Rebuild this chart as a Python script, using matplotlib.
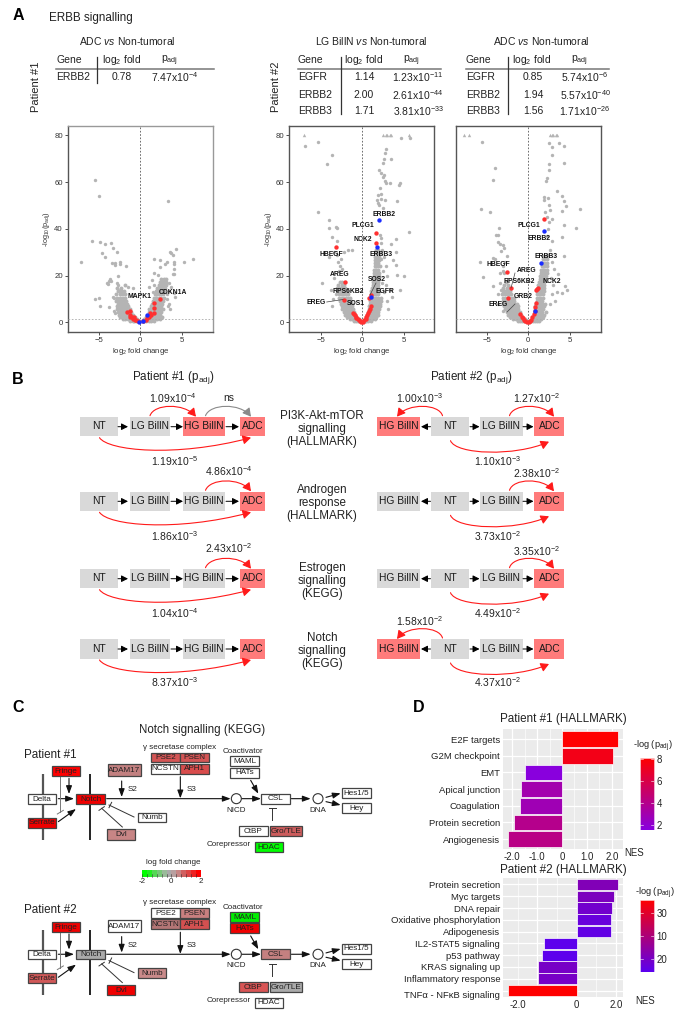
import numpy as np
import matplotlib
matplotlib.use("Agg")
import matplotlib.pyplot as plt
from matplotlib.patches import Rectangle, Circle, FancyArrowPatch
from matplotlib.path import Path
from matplotlib.colors import LinearSegmentedColormap, Normalize
from matplotlib.transforms import ScaledTranslation

plt.rcParams['font.family'] = ['Liberation Sans', 'DejaVu Sans']
plt.rcParams['mathtext.fontset'] = 'custom'
plt.rcParams['mathtext.rm'] = 'Liberation Sans'
plt.rcParams['mathtext.it'] = 'Liberation Sans:italic'
plt.rcParams['mathtext.bf'] = 'Liberation Sans:bold'
plt.rcParams['mathtext.default'] = 'regular'

W, H = 685, 1017
TXT = '#222222'

# ---------- Panel A data ----------
v1_rows_y = [0.6, 1.3, 2.2, 3.2, 4.3, 5.5, 6.8, 8, 9.3, 10.6, 12, 13.3, 14.6, 16, 17.3, 18.6]
v1_rows_x = [
    [-1.2, -.9, -.7, -.5, -.3, -.15, .15, .3, .5, .7, 1.0, 1.3, 1.7],
    [-2.1, -1.8, -1.5, -1.25, -1.0, -.8, -.6, -.45, .45, .65, .85, 1.1, 1.35, 1.65, 2.0, 2.4],
    [-2.5, -2.2, -1.9, -1.6, -1.35, -1.1, -.85, -.65, .7, .9, 1.1, 1.35, 1.6, 1.9, 2.2, 2.6],
    [-2.6, -2.3, -2.05, -1.75, -1.5, -1.25, -1.0, -.85, .9, 1.05, 1.25, 1.5, 1.75, 2.0, 2.35],
    [-2.7, -2.4, -2.1, -1.85, -1.6, -1.35, -1.1, 1.0, 1.2, 1.4, 1.65, 1.9, 2.2, 2.5],
    [-2.8, -2.45, -2.2, -1.9, -1.65, -1.4, -1.2, 1.1, 1.3, 1.55, 1.8, 2.05, 2.35, 2.7],
    [-2.85, -2.5, -2.25, -2.0, -1.7, -1.45, 1.25, 1.45, 1.7, 1.9, 2.15, 2.45],
    [-2.7, -2.45, -2.15, -1.85, -1.55, 1.4, 1.6, 1.8, 2.05, 2.3, 2.6],
    [-2.9, -2.55, -2.3, -2.0, -1.7, 1.5, 1.7, 1.95, 2.15, 2.4, 2.7],
    [-2.8, -2.4, -2.1, -1.85, 1.6, 1.85, 2.05, 2.3, 2.55, 2.8],
    [-2.9, -2.5, -2.2, -1.9, 1.75, 1.95, 2.2, 2.45, 2.7],
    [-2.7, -2.3, -2.0, 1.9, 2.1, 2.35, 2.6, 2.85],
    [-2.75, -2.3, 2.0, 2.25, 2.5, 2.75, 3.0],
    [-1.9, 2.2, 2.4, 2.65, 2.9, 3.1],
    [2.35, 2.6, 2.8, 3.05],
    [2.55, 2.8, 3.1],
]
v1_grey = [(-5.4, 60.8), (-5.0, 54), (3.3, 52), (-5.8, 35), (-4.8, 34.4), (-4.3, 33.4), (-3.5, 33.8),
           (-3.3, 31.8), (-2.8, 30), (-4.6, 29.5), (-4.2, 27.8), (-7.2, 26), (-3.4, 25.5), (-3.1, 25.5),
           (-3.1, 24.4), (-2.4, 26), (-2.5, 25), (-1.7, 24), (-2.7, 20), (-3.6, 18.7), (-3.8, 17.8),
           (-4.0, 17), (-3.9, 16.5), (-3.5, 17.5), (-2.8, 17), (-2.7, 16), (-1.5, 15), (-0.9, 14.7),
           (-5.4, 10), (-5.0, 10.5), (-4.9, 7), (-3.8, 6.5), (-3.3, 11), (-3.2, 10.5), (-3.2, 5), (-3.0, 4),
           (-2.4, 14), (4.3, 31.2), (3.6, 30), (3.7, 29.5), (3.9, 28.7), (1.7, 27), (2.4, 26.7), (3.2, 25.8),
           (3.0, 24.8), (2.4, 23.8), (4.0, 26), (4.0, 24.8), (5.3, 26), (6.4, 27.1), (4.1, 22.8), (3.9, 20.5),
           (4.1, 20.5), (1.7, 21.2), (2.1, 20.2), (1.0, 15), (1.5, 13), (1.4, 18), (1.6, 16), (3.5, 8),
           (3.6, 5.5), (3.3, 7), (3.2, 10), (3.2, 12), (3.4, 13.5), (4.2, 11), (4.0, 12.5), (3.7, 15), (3.4, 17)]
v1_red = [(2.35, 10), (1.6, 8.3), (1.6, 6), (1.65, 4), (1.2, 3.9), (1.3, 3), (-1.6, 4.5), (-1.2, 4.7),
          (-1.3, 3.2), (-1.2, 2.5), (-1.0, 2.2), (-0.9, 1.5), (-0.8, 2.4), (-0.6, 1.2), (-0.5, 0.8),
          (-0.3, 0.4), (0.3, 0.5), (0.7, 1.2), (0.8, 1.8), (1.0, 2.3)]
v1_blue = [(0.75, 3), (0.35, 0.5), (-0.1, 0.1)]

v2_rows_y = [0.6, 1.3, 2.2, 3.2, 4.3, 5.5, 6.8, 8, 9.3, 10.6, 12, 13.3, 14.6, 16, 17.3, 18.6, 20, 21.3, 22.6, 24, 25.3,
             26.6, 28, 29.5, 31]
v2_rows_x = [
    [-1.0, -.7, -.5, -.35, -.2, .2, .35, .5, .7, 1.0],
    [-1.5, -1.2, -1.0, -.8, -.6, -.45, .4, .55, .7, .9, 1.15, 1.5],
    [-1.9, -1.6, -1.35, -1.1, -.9, -.7, .5, .7, .9, 1.1, 1.35, 1.7],
    [-2.1, -1.8, -1.55, -1.3, -1.05, -.85, .6, .8, 1.0, 1.2, 1.5, 1.85],
    [-2.2, -1.95, -1.7, -1.45, -1.2, -.95, .7, .85, 1.05, 1.3, 1.6, 1.95],
    [-2.4, -2.1, -1.85, -1.6, -1.35, -1.1, .75, .95, 1.15, 1.4, 1.7, 2.05],
    [-2.5, -2.25, -1.95, -1.7, -1.45, -1.2, .8, 1.0, 1.2, 1.45, 1.75, 2.1],
    [-2.6, -2.35, -2.05, -1.8, -1.55, -1.3, .9, 1.05, 1.3, 1.55, 1.8, 2.15],
    [-2.7, -2.4, -2.15, -1.85, -1.6, -1.4, .95, 1.15, 1.35, 1.6, 1.85, 2.2],
    [-2.8, -2.5, -2.2, -1.95, -1.7, -1.5, 1.0, 1.2, 1.4, 1.65, 1.9, 2.25],
    [-2.85, -2.55, -2.3, -2.0, -1.75, 1.05, 1.25, 1.5, 1.7, 1.95],
    [-2.9, -2.6, -2.3, -2.05, -1.8, 1.1, 1.3, 1.55, 1.75, 2.0],
    [-3.0, -2.65, -2.35, -2.1, 1.2, 1.4, 1.6, 1.85],
    [-2.9, -2.5, -2.25, 1.25, 1.45, 1.65, 1.9],
    [-2.7, -2.4, 1.3, 1.5, 1.7, 1.95],
    [1.35, 1.55, 1.75, 2.0],
    [1.4, 1.6, 1.8, 2.05],
    [1.4, 1.6, 1.85, 2.0],
    [1.45, 1.65, 1.85],
    [1.5, 1.7, 1.9, 2.1],
    [1.5, 1.7, 1.95],
    [1.55, 1.75, 2.0],
    [1.55, 1.8, 2.05],
    [1.6, 1.85, 2.1],
    [1.65, 1.9],
]
v2_grey = [(-6.9, 75.5), (-5.3, 77), (-3.6, 71.8), (-4.2, 67.8), (-5.3, 47), (-4.0, 43.8), (-4.0, 40.2),
           (-3.2, 40.6), (-3.0, 40.2), (-3.6, 36.6), (-3.1, 35), (2.8, 74.3), (2.7, 72.6), (2.6, 69.8),
           (3.5, 70), (2.5, 68), (2.0, 65), (2.3, 64), (2.6, 63), (2.55, 62), (2.75, 60.5), (2.8, 59.6),
           (3.3, 59.5), (4.6, 59.5), (4.4, 58.6), (4.7, 78.8), (5.7, 78.9), (2.1, 57.3), (1.95, 54.5),
           (2.3, 55), (1.8, 52.3), (2.3, 52.6), (2.75, 52.3), (4.2, 52), (1.95, 51), (2.05, 50), (2.5, 49),
           (5.6, 38.8), (4.0, 35.5), (2.1, 37.4), (2.3, 36), (3.5, 33.5), (4.0, 30.2), (3.75, 26.7), (4.0, 24.5),
           (4.15, 20.3), (5.0, 19.8), (4.5, 14), (-4.9, 17), (-3.4, 30), (-4.0, 28), (-3.0, 29), (-2.9, 26),
           (-2.6, 27), (-2.7, 24), (-2.8, 22), (-2.5, 23), (-1.7, 31), (-1.3, 31), (-2.2, 30), (-3.4, 19),
           (-3.8, 14), (-3.5, 10), (-3.6, 7), (-3.2, 12), (2.3, 34), (2.4, 31), (2.6, 28), (2.8, 24), (2.3, 27),
           (2.5, 22), (3.0, 20), (2.9, 16), (3.3, 14), (3.6, 11), (3.0, 9), (2.6, 13), (2.4, 17), (3.1, 5.5)]
v2_tri = [(-7.0, 80), (2.5, 80), (2.8, 80), (3.0, 80), (3.3, 80), (3.5, 80), (5.6, 80)]
v2_red = [(1.65, 38.4), (1.7, 33.8), (-3.2, 32.1), (-2.1, 17.3), (-2.2, 9.7), (0.85, 10.3), (1.0, 11.7),
          (-1.1, 4.0), (-1.0, 3.4), (-0.9, 3.0), (-0.8, 2.4), (-0.7, 2.0), (-0.55, 1.5), (-0.4, 1.0), (-0.25, 0.6),
          (-0.1, 0.2), (0.1, 0.3), (0.25, 0.8), (0.4, 1.5), (0.5, 2.2), (0.6, 3.0), (0.7, 3.9), (0.8, 4.8),
          (0.9, 5.8), (1.0, 7.0)]
v2_blue = [(2.0, 43.7), (1.73, 32.2), (1.1, 10.7)]

v3_rows_y = [0.6, 1.3, 2.2, 3.2, 4.3, 5.5, 6.8, 8, 9.3, 10.6, 12, 13.3, 14.6, 16, 17.3, 18.6, 20, 21.3, 22.6, 24, 25.5,
             27, 28.5]
v3_rows_x = [
    [-1.3, -1.0, -.75, -.55, -.35, -.2, .2, .35, .55, .75, 1.0, 1.3],
    [-1.8, -1.5, -1.25, -1.0, -.8, -.6, -.45, .45, .6, .8, 1.0, 1.25, 1.55],
    [-2.2, -1.9, -1.65, -1.4, -1.15, -.95, -.7, .55, .7, .9, 1.15, 1.4, 1.75],
    [-2.4, -2.1, -1.85, -1.6, -1.35, -1.1, -.9, .65, .85, 1.05, 1.3, 1.6, 1.95],
    [-2.6, -2.3, -2.05, -1.8, -1.5, -1.25, -1.05, .75, .95, 1.15, 1.4, 1.7, 2.1],
    [-2.8, -2.5, -2.2, -1.95, -1.65, -1.4, -1.2, .8, 1.0, 1.2, 1.5, 1.8],
    [-2.9, -2.6, -2.3, -2.05, -1.8, -1.55, -1.3, .85, 1.05, 1.25, 1.55, 1.9],
    [-3.0, -2.7, -2.4, -2.15, -1.85, -1.6, -1.4, .95, 1.15, 1.35, 1.65, 2.0],
    [-3.05, -2.75, -2.45, -2.2, -1.95, -1.7, 1.0, 1.2, 1.4, 1.7],
    [-3.1, -2.8, -2.5, -2.25, -2.0, -1.75, 1.0, 1.25, 1.45, 1.75],
    [-3.2, -2.85, -2.55, -2.3, -2.05, 1.05, 1.25, 1.5, 1.8],
    [-3.1, -2.8, -2.5, -2.2, 1.1, 1.3, 1.55, 1.85],
    [-3.0, -2.6, -2.3, 1.15, 1.35, 1.6, 1.9],
    [-2.9, -2.5, 1.2, 1.4, 1.65, 1.9],
    [-2.7, 1.3, 1.5, 1.7, 1.95],
    [1.4, 1.6, 1.8, 2.0],
    [1.45, 1.65, 1.85, 2.1],
    [1.5, 1.7, 1.9, 2.2],
    [1.55, 1.75, 1.95, 2.25],
    [1.6, 1.8, 2.0, 2.3],
    [1.7, 1.95, 2.2],
    [1.75, 2.0, 2.3],
    [1.8, 2.1],
]
v3_grey = [(-5.6, 77.3), (-4.0, 65.9), (-4.3, 61), (-5.7, 48.6), (-4.6, 47.2), (-3.5, 40.2), (-3.9, 37.5),
           (-3.7, 37.5), (-3.7, 34.2), (-3.4, 33.6), (-3.1, 33), (-2.9, 32), (-3.3, 30.4), (-4.2, 27.7), (-4.0, 27),
           (-2.6, 28.5), (-5.8, 26), (-2.8, 26), (-5.4, 19.3), (-4.3, 15.7), (-3.4, 16.7), (-3.6, 12), (-3.3, 14),
           (-3.1, 22), (-2.9, 21), (-3.4, 21), (-3.0, 24), (-3.6, 8), (-3.0, 5), (2.5, 76.7), (2.9, 75.2), (3.7, 76.6),
           (4.3, 75.5), (2.8, 71.6), (2.5, 67.8), (4.3, 68.3), (2.5, 65.2), (2.2, 61.6), (2.1, 60.6), (3.4, 56.2),
           (4.1, 54.2), (4.3, 52), (4.5, 49.8), (4.1, 47.6), (6.2, 48.4), (1.9, 53.5), (1.9, 52.4), (2.35, 53),
           (2.5, 50.4), (2.6, 48.2), (2.9, 44), (4.3, 41.7), (5.8, 40.5), (4.1, 36.7), (4.3, 28.4), (3.6, 20.7),
           (4.4, 15.7), (4.7, 13.8), (4.1, 12.4), (2.3, 45), (2.0, 47), (2.5, 43), (2.4, 40), (2.3, 37), (2.8, 35),
           (2.6, 31), (2.4, 29), (2.8, 26), (3.1, 23), (2.7, 19), (3.0, 16), (3.4, 13), (2.9, 12), (3.2, 9), (2.6, 8)]
v3_tri = [(-7.7, 80), (-7.1, 80), (2.6, 80), (2.8, 80), (3.0, 80), (3.3, 80), (3.5, 80)]
v3_red = [(1.84, 44.4), (-2.6, 21.7), (-2.1, 14.5), (-2.5, 10.5), (1.2, 14.8), (0.96, 13.8), (1.05, 14.3),
          (0.92, 8.1), (0.84, 6.7), (0.75, 5), (0.65, 3.5), (0.5, 2.2), (0.35, 1.2), (0.2, 0.5), (0.05, 0.2),
          (-1.0, 3.4), (-0.8, 2.4), (-0.65, 1.8), (-0.5, 1.2), (-0.35, 0.7), (-0.2, 0.3)]
v3_blue = [(1.92, 39), (1.56, 25.5), (0.8, 5)]

xticks_v = [-5, 0, 5]
yticks_v = [0, 20, 40, 60, 80]

table_headers = ['Gene', 'log$_2$ fold', 'p$_{adj}$']
t1_genes = ['ERBB2']
t1_fold = ['0.78']
t1_padj = ['7.47x10$^{-4}$']
t2_genes = ['EGFR', 'ERBB2', 'ERBB3']
t2_fold = ['1.14', '2.00', '1.71']
t2_padj = ['1.23x10$^{-11}$', '2.61x10$^{-44}$', '3.81x10$^{-33}$']
t3_genes = ['EGFR', 'ERBB2', 'ERBB3']
t3_fold = ['0.85', '1.94', '1.56']
t3_padj = ['5.74x10$^{-6}$', '5.57x10$^{-40}$', '1.71x10$^{-26}$']

# ---------- Panel B data ----------
pathway_names = ['PI3K-Akt-mTOR\nsignalling\n(HALLMARK)', 'Androgen\nresponse\n(HALLMARK)',
                 'Estrogen\nsignalling\n(KEGG)', 'Notch\nsignalling\n(KEGG)']
p1_red = [['HG BillN', 'ADC'], ['ADC'], ['ADC'], ['ADC']]
p2_red = [['HG BillN', 'ADC'], ['ADC'], ['ADC'], ['HG BillN', 'ADC']]
p1_bottom = ['1.19x10$^{-5}$', '1.86x10$^{-3}$', '1.04x10$^{-4}$', '8.37x10$^{-3}$']
p1_hg_adc = ['ns', '4.86x10$^{-4}$', '2.43x10$^{-2}$', None]
p1_lg_hg = ['1.09x10$^{-4}$', None, None, None]
p2_bottom = ['1.10x10$^{-3}$', '3.73x10$^{-2}$', '4.49x10$^{-2}$', '4.37x10$^{-2}$']
p2_lg_adc = ['1.27x10$^{-2}$', '2.38x10$^{-2}$', '3.35x10$^{-2}$', None]
p2_nt_hg = ['1.00x10$^{-3}$', None, None, '1.58x10$^{-2}$']

# ---------- Panel C data ----------
node_names = ['Fringe', 'Delta', 'Notch', 'Serrate', 'ADAM17', 'PSE2', 'PSEN', 'NCSTN', 'APH1', 'MAML', 'HATs',
              'CSL', 'Numb', 'Dvl', 'CtBP', 'Gro/TLE', 'HDAC', 'Hes1/5', 'Hey']
c1_colors = ['#ff0000', 'white', '#f00000', '#ee0000', '#c28080', '#d45555', '#d45555', 'white', '#d84c4c',
             'white', 'white', 'white', 'white', '#c78585', 'white', '#cc5c5c', '#00ff00', 'white', 'white']
c2_colors = ['#f00000', 'white', '#aaaaaa', '#d05858', 'white', 'white', '#c98080', '#b37575', '#d35050',
             '#00ee00', '#f00000', '#c48080', '#c98a8a', '#f00000', '#d85555', '#aaaaaa', 'white', 'white', 'white']
lfc_colors = ['#00ff00', '#22ee22', '#55d855', '#77c877', '#99bb99', '#aaaaaa', '#b8a0a0', '#c78585', '#d06060',
              '#dd4444', '#ee2222', '#ff0000']
lfc_ticks = ['-2', '0', '2']

# ---------- Panel D data ----------
d1_terms = ['E2F targets', 'G2M checkpoint', 'EMT', 'Apical junction', 'Coagulation', 'Protein secretion', 'Angiogenesis']
d1_nes = [2.23, 2.05, -1.49, -1.64, -1.68, -1.93, -2.17]
d1_logp = [8.1, 7.4, 1.6, 3.0, 2.8, 4.0, 4.2]
d1_ticks = [-2, -1, 0, 1, 2]
d1_ticklabels = ['-2.0', '-1.0', '0', '1.0', '2.0']
d2_terms = ['Protein secretion', 'Myc targets', 'DNA repair', 'Oxidative phosphorylation', 'Adipogenesis',
            'IL2-STAT5 signaling', 'p53 pathway', 'KRAS signaling up', 'Inflammatory response',
            'TNF\u03b1 - NF\u03baB signaling']
d2_nes = [2.08, 1.9, 1.81, 1.75, 1.75, -1.68, -1.76, -1.97, -1.98, -3.47]
d2_logp = [21, 20.5, 19.5, 18.5, 18, 17.5, 17.5, 20, 20, 33]
d2_ticks = [-3, 0, 2]
d2_ticklabels = ['-2.0', '0', '2.0']
d2_cbar_ticks = [20, 25, 30]
d2_cbar_labels = ['20', '10', '30']
d1_cbar_ticks = [2, 4, 6, 8]

# ---------- helpers ----------
fig = plt.figure(figsize=(W / 100, H / 100), dpi=100, facecolor='white')


def ax_px(l, t, r, b, **kw):
    return fig.add_axes([l / W, 1 - b / H, (r - l) / W, (b - t) / H], **kw)


ov = fig.add_axes([0, 0, 1, 1], zorder=10)
ov.set_xlim(0, W)
ov.set_ylim(H, 0)
ov.axis('off')
ov.patch.set_alpha(0)


def T(x, y, s, size=7.5, ha='center', va='center', color=TXT, **kw):
    return ov.text(x, y, s, fontsize=size, ha=ha, va=va, color=color, **kw)


# ---------- Panel letters ----------
for x, y, s in [(18.5, 15.5, 'A'), (18, 379, 'B'), (18, 707, 'C'), (419, 707, 'D')]:
    T(x, y, s, size=11.5, weight='bold', color='black')
T(49, 17.5, 'ERBB signalling', size=8.4, ha='left')


# ---------- Panel A tables ----------
def table(title, tx, xg, xf, xp, xvf, xvp, xv, right, genes, fold, padj, ys, vbottom):
    T(tx, 41, title, size=7.5)
    T(xg, 60, table_headers[0], size=7.5, ha='left')
    T(xf, 60, table_headers[1], size=7.5)
    T(xp, 60.5, table_headers[2], size=7.5)
    ov.plot([xg, right], [69, 69], color='#777777', lw=1.1)
    ov.plot([xv, xv], [57, vbottom], color='#333333', lw=0.9)
    for g, f, p, y in zip(genes, fold, padj, ys):
        T(xg, y, g, size=7.5, ha='left')
        T(xvf, y, f, size=7.5)
        T(xvp, y, p, size=7.5)


table('ADC $\\mathit{vs}$ Non-tumoral', 127, 56.5, 122, 170, 122, 175, 97, 214, t1_genes, t1_fold, t1_padj, [77], 83)
table('LG BillN $\\mathit{vs}$ Non-tumoral', 371, 298, 364, 412, 364, 418, 341, 441, t2_genes, t2_fold, t2_padj, [77, 95, 111], 114)
table('ADC $\\mathit{vs}$ Non-tumoral', 541, 466, 532, 580, 533, 585, 508, 609, t3_genes, t3_fold, t3_padj, [77, 95, 111], 114)
T(36.5, 87, 'Patient #1', size=8, rotation=90)
T(276, 87, 'Patient #2', size=8, rotation=90)


# ---------- Panel A volcanoes ----------
def volcano(l, r, zero_px, rows_y, rows_x, grey, red, blue, tri=None, ylabels=True, light=False):
    ax = ax_px(l, 126, r, 331.7)
    scale = 8.3
    ax.set_xlim((l - zero_px) / scale, (r - zero_px) / scale)
    ax.set_ylim(-4, 84)
    xs = [x for row in rows_x for x in row]
    ys = [y for y, row in zip(rows_y, rows_x) for _ in row]
    gc = '#b4b4b4'
    ax.scatter(xs, ys, s=8, color=gc, lw=0, zorder=2)
    ax.scatter(*zip(*grey), s=6, color=gc, lw=0, zorder=2)
    if tri:
        ax.scatter(*zip(*tri), s=6, color=gc, lw=0, marker='^', zorder=2)
    ax.axvline(0, color='#555555', lw=0.6, ls=(0, (2, 2)), zorder=3)
    ax.axhline(1.3, color='#aaaaaa', lw=0.6, ls=(0, (2, 2)), zorder=3)
    ax.scatter(*zip(*red), s=10, color='#ff3030', lw=0, zorder=4)
    ax.scatter(*zip(*blue), s=10, color='#1a2cff', lw=0, zorder=5)
    ax.set_xticks(xticks_v)
    ax.set_yticks(yticks_v)
    ax.tick_params(labelsize=5.6, length=2, width=0.6, pad=1.5, colors='#333333', labelleft=ylabels,
                   left=ylabels)
    for name, s in ax.spines.items():
        s.set_color('#999999' if light and name in ('top', 'right') else '#555555')
        s.set_linewidth(1.0)
    ax.set_xlabel('log$_2$ fold change', fontsize=5.6, labelpad=1.5, color='#333333')
    if ylabels:
        ax.set_ylabel('-log$_{10}$(p$_{adj}$)', fontsize=5.2, labelpad=1.5, color='#333333')
    return ax


volcano(67.7, 213.3, 140.3, v1_rows_y, v1_rows_x, v1_grey, v1_red, v1_blue, light=True)
volcano(289.3, 434.3, 362.3, v2_rows_y, v2_rows_x, v2_grey, v2_red, v2_blue, v2_tri)
volcano(455.7, 601, 528.3, v3_rows_y, v3_rows_x, v3_grey, v3_red, v3_blue, v3_tri, ylabels=False)

gene_labels = [(140, 296.3, 'MAPK1'), (172.7, 292.3, 'CDKN1A'),
               (383.7, 214, 'ERBB2'), (363, 225.7, 'PLCG1'), (363, 239.3, 'NCK2'), (381.3, 254, 'ERBB3'),
               (331.3, 254.7, 'HBEGF'), (340, 275, 'AREG'), (377, 279.7, 'SOS2'), (348, 291.3, 'RPS6KB2'),
               (385, 291.3, 'EGFR'), (316, 302.3, 'EREG'), (356, 303.3, 'SOS1'),
               (529, 225.7, 'PLCG1'), (539.3, 238, 'ERBB2'), (546.3, 256, 'ERBB3'), (498.3, 264.7, 'HBEGF'),
               (527, 270, 'AREG'), (518.7, 281.3, 'RPS6KB2'), (551.7, 281.3, 'NCK2'), (523.3, 297, 'GRB2'),
               (497.7, 304.7, 'EREG')]
for x, y, s in gene_labels:
    T(x, y, s, size=4.9, weight='bold', color='#111111')
for (a, b, c, d) in [(326.7, 302, 343, 299.5), (376, 283, 370, 295), (515, 273, 511, 288), (515, 304, 507, 312)]:
    ov.plot([a, c], [b, d], color='#444444', lw=0.5)


# ---------- Panel B ----------
row_y = [426.7, 501.3, 578.7, 649]
BOX_RED, BOX_GREY = '#ff7b7b', '#d9d9d9'
p1_box = {'NT': (79.7, 117.7), 'LG BillN': (130, 170.3), 'HG BillN': (183.3, 225), 'ADC': (240, 265)}
p2_box = {'HG BillN': (376.7, 420), 'NT': (431, 469), 'LG BillN': (480, 522.7), 'ADC': (534.3, 564.3)}


def small_arrow(x0, x1, y):
    ov.add_patch(FancyArrowPatch((x0, y), (x1, y), arrowstyle='-|>,head_length=0.65,head_width=0.33',
                                 mutation_scale=6, color='black', lw=0.7, shrinkA=0, shrinkB=0))


def curve(p0, c1, c2, p1, color='#ff1a1a', ms=6.5):
    ov.add_patch(FancyArrowPatch(path=Path([p0, c1, c2, p1], [Path.MOVETO, Path.CURVE4, Path.CURVE4, Path.CURVE4]),
                                 arrowstyle='-|>,head_length=0.75,head_width=0.42', mutation_scale=ms,
                                 color=color, lw=0.8))


def boxes(spec, red, y):
    for name, (a, b) in spec.items():
        ov.add_patch(Rectangle((a, y - 9.7), b - a, 19.4, fc=BOX_RED if name in red else BOX_GREY, ec='none'))
        T((a + b) / 2, y - 0.5, name, size=7.4, color='#1a1a1a')


T(173, 377.5, 'Patient #1 (p$_{adj}$)', size=8.4)
T(471, 377.5, 'Patient #2 (p$_{adj}$)', size=8.4)
p1_top_y = [398, 471, 548.3, None]
p1_bot_y = [461, 535.7, 613.3, 681.7]
p2_top_y = [398.3, 473, 550.7, None]
p2_bot_y = [461, 535.7, 613.3, 681.7]
p2_left_y = [398.3, None, None, 620.7]
for i, y in enumerate(row_y):
    T(322, y + 2, pathway_names[i], size=8.4, linespacing=1.12)
    boxes(p1_box, p1_red[i], y)
    boxes(p2_box, p2_red[i], y)
    small_arrow(118, 128, y)
    small_arrow(171, 183, y)
    small_arrow(226, 239, y)
    small_arrow(430.5, 421, y)
    small_arrow(470, 479.5, y)
    small_arrow(523, 533.5, y)
    # patient 1 curves
    curve((99.5, y + 11), (108, y + 24), (175, y + 31), (251, y + 11))
    T(174.7, p1_bot_y[i], p1_bottom[i])
    if p1_lg_hg[i]:
        curve((150, y - 11), (154, y - 23), (184, y - 24), (196, y - 10))
        T(173, p1_top_y[i], p1_lg_hg[i])
    if p1_hg_adc[i]:
        col = '#8a8a8a' if p1_hg_adc[i] == 'ns' else '#ff1a1a'
        curve((205.5, y - 11), (210, y - 23), (240, y - 24), (251, y - 10), color=col)
        T(228.5, p1_top_y[i], p1_hg_adc[i])
    # patient 2 curves
    curve((450.5, y + 14), (456, y + 28), (515, y + 30), (549, y + 15))
    T(497, p2_bot_y[i], p2_bottom[i])
    if p2_lg_adc[i]:
        curve((509.5, y - 11), (513, y - 23), (543, y - 24), (554, y - 10))
        T(536, p2_top_y[i], p2_lg_adc[i])
    if p2_nt_hg[i]:
        curve((442.5, y - 11), (439, y - 23), (408, y - 24), (397, y - 10))
        T(419, p2_left_y[i], p2_nt_hg[i])


# ---------- Panel C ----------
node_boxes = [(155, 239, 214, 244), (83, 167, 297, 326), (229, 315, 297, 326), (83, 167, 368, 398),
              (323, 424, 208, 243), (454, 539, 173, 202), (541, 626, 173, 202), (454, 539, 206, 236),
              (541, 626, 206, 236), (691, 776, 184, 214), (691, 776, 218, 248), (784, 869, 296, 326),
              (414, 499, 353, 382), (320, 405, 403, 434), (717, 803, 394, 424), (809, 905, 394, 424),
              (764, 849, 441, 471), (1027, 1112, 279, 309), (1027, 1112, 325, 355)]
arrow_segs = [(175, 311, 222, 311), (207, 250, 207, 297), (175, 380, 228, 342), (365, 258, 365, 306),
              (541, 245, 541, 310), (320, 311, 692, 311), (725, 311, 783, 311), (874, 311, 932, 311),
              (978, 307, 1022, 295), (978, 320, 1022, 330), (752, 256, 775, 296)]
line_segs = [(180, 244, 180, 352, '#777777'), (172, 357, 190, 346, '#777777'), (817, 376, 817, 340, '#333333'),
             (806, 340, 828, 340, '#333333'), (402, 366, 327, 330, '#333333'), (335, 322, 327, 338, '#333333'),
             (367, 396, 305, 340, '#333333'), (297, 346, 313, 335, '#333333')]


def pathway(dy, colors):
    z = lambda v: v / 3
    zy = lambda v: 695 + v / 3 + dy
    ov.plot([z(128), z(128)], [zy(238), zy(434)], color='#555555', lw=1.6, solid_capstyle='butt')
    ov.plot([z(271), z(271)], [zy(238), zy(434)], color='#111111', lw=1.3, solid_capstyle='butt')
    for a, b, c, d, col in line_segs:
        ov.plot([z(a), z(c)], [zy(b), zy(d)], color=col, lw=0.7)
    for a, b, c, d in arrow_segs:
        ov.add_patch(FancyArrowPatch((z(a), zy(b)), (z(c), zy(d)),
                                     arrowstyle='-|>,head_length=0.6,head_width=0.22', mutation_scale=8,
                                     color='#111111', lw=0.8, shrinkA=0, shrinkB=0))
    for (cx, cy) in [(709, 311), (954, 311)]:
        ov.add_patch(Circle((z(cx), zy(cy)), 5.0, fc='white', ec='#333333', lw=0.8, zorder=4))
    for name, c, (a, b, t, u) in zip(node_names, colors, node_boxes):
        ov.add_patch(Rectangle((z(a), zy(t)), z(b - a), (u - t) / 3, fc=c, ec='#444444', lw=0.9, zorder=5))
        T(z((a + b) / 2), zy((t + u) / 2) + 0.3, name, size=5.9, color='#222222', zorder=6)
    for x, y, s in [(397, 284, 'S2'), (575, 284, 'S3'), (707, 345, 'NICD'), (954, 345, 'DNA'),
                    (685, 450, 'Corepressor'), (539, 157, '\u03b3 secretase complex'), (729, 170, 'Coactivator')]:
        T(z(x), zy(y), s, size=5.8)


T(202, 730.5, 'Notch signalling (KEGG)', size=8.3)
T(24, 754.5, 'Patient #1', size=8.4, ha='left')
T(24, 910, 'Patient #2', size=8.4, ha='left')
pathway(0, c1_colors)
pathway(155.6, c2_colors)
T(173.7, 863, 'log fold change', size=5.8)
seg_w = (201 - 142) / len(lfc_colors)
for i, c in enumerate(lfc_colors):
    ov.add_patch(Rectangle((142 + i * seg_w, 869.7), seg_w, 7, fc=c, ec='none'))
    ov.plot([142 + i * seg_w] * 2, [873.5, 876.7], color='#333333', lw=0.4)
for x, s in zip([142, 171, 200.5], lfc_ticks):
    T(x, 881.5, s, size=5.8)


# ---------- Panel D ----------
def barpanel(box, zero, scale, terms, nes, logp, cmap, norm, ticks, ticklabels, major, minor, ypad, title, titley,
             nes_xy, labelsize=6.8):
    l, t, r, b = box
    ax = ax_px(l, t, r, b)
    ax.set_facecolor('#ebebeb')
    ax.set_xlim((l - zero) / scale, (r - zero) / scale)
    n = len(terms)
    y = np.arange(n)
    ax.set_ylim(n - 1 + ypad, -ypad)
    ax.set_axisbelow(True)
    for v in major:
        ax.axvline(v, color='white', lw=0.9, zorder=1)
    for v in minor:
        ax.axvline(v, color='white', lw=0.45, zorder=1)
    for v in y:
        ax.axhline(v, color='white', lw=0.9, zorder=1)
    ax.barh(y, nes, height=0.94, color=cmap(norm(np.array(logp))), edgecolor='white', lw=0.5, zorder=2)
    ax.set_yticks(y)
    ax.set_yticklabels(terms, fontsize=labelsize, color=TXT)
    ax.set_xticks(ticks)
    ax.set_xticklabels(ticklabels, fontsize=6.9, color=TXT)
    ax.tick_params(length=0, pad=2)
    for s in ax.spines.values():
        s.set_visible(False)
    T((l + r) / 2 + 0.5, titley, title, size=8.4)
    T(nes_xy[0], nes_xy[1], 'NES', size=6.9)
    return ax


def cbar(box, cmap, vmin, vmax, ticks, labels, title, title_xy):
    l, t, r, b = box
    ax = ax_px(l, t, r, b)
    ax.imshow(np.linspace(0, 1, 256)[:, None], extent=[0, 1, vmin, vmax], origin='lower', aspect='auto', cmap=cmap)
    ax.set_xticks([])
    ax.yaxis.tick_right()
    ax.set_yticks(ticks)
    ax.set_yticklabels(labels, fontsize=6.9, color=TXT)
    ax.tick_params(length=0, pad=2)
    for v in ticks:
        ax.plot([0, 0.2], [v, v], color='white', lw=0.4)
        ax.plot([0.8, 1], [v, v], color='white', lw=0.4)
    ax.set_xlim(0, 1)
    ax.set_ylim(vmin, vmax)
    for s in ax.spines.values():
        s.set_color('white')
        s.set_linewidth(0.5)
    T(title_xy[0], title_xy[1], title, size=6.7)


cm1 = LinearSegmentedColormap.from_list('d1', ['#8800e0', '#ff0000'])
cm2 = LinearSegmentedColormap.from_list('d2', ['#5a00f0', '#ff0000'])
n1 = Normalize(1.51, 8.09)
n2 = Normalize(17.2, 32.9)
barpanel((503, 729.3, 622.7, 849), 562, 24.9, d1_terms, d1_nes, d1_logp, cm1, n1, d1_ticks, d1_ticklabels,
         [-2, -1, 0, 1, 2], [-1.5, -0.5, 0.5, 1.5], 0.59, 'Patient #1 (HALLMARK)', 719, (634, 853.5))
ax2 = barpanel((503, 877.7, 622.7, 997.3), 576.7, 19.67, d2_terms, d2_nes, d2_logp, cm2, n2, d2_ticks, d2_ticklabels,
               [-2, 0, 2], [-3, -1, 1], 0.57, 'Patient #2 (HALLMARK)', 870, (644.7, 1001))
lab = ax2.get_yticklabels()[-1]
lab.set_transform(lab.get_transform() + ScaledTranslation(0, -4 / 100, fig.dpi_scale_trans))
cbar((639.7, 758.3, 654, 830), cm1, 1.51, 8.09, d1_cbar_ticks, [str(v) for v in d1_cbar_ticks],
     '-log (p$_{adj}$)', (653.3, 746.7))
cbar((639.7, 900, 654, 971.7), cm2, 17.2, 32.9, d2_cbar_ticks, d2_cbar_labels,
     '-log (p$_{adj}$)', (655, 893.3))

fig.savefig('out.png', dpi=100)
